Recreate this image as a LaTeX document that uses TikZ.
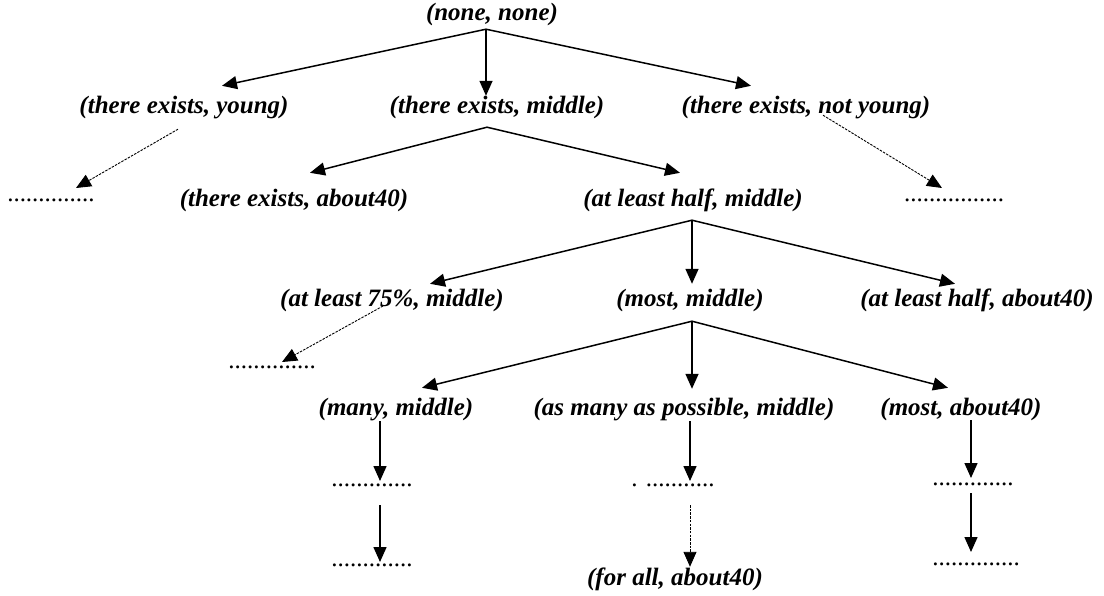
\documentclass[tikz,border=0pt]{standalone}
\usepackage{fontspec}
\setmainfont{Liberation Serif}
\usetikzlibrary{arrows.meta,calc}
\tikzset{
 lbl/.style={anchor=base,inner sep=0pt,text height=17pt,text depth=5pt,font=\fontsize{25}{30}\selectfont\bfseries\itshape},
 dotrow/.style={anchor=base,inner sep=0pt,font=\fontsize{25}{30}\selectfont},
 arr/.style={line width=1.5pt,-{Triangle[length=15pt,width=13pt]}},
 darr/.style={line width=0.9pt,dash pattern=on 2.5pt off 1.2pt,-{Triangle[length=15pt,width=13pt]}}
}
\begin{document}
\begin{tikzpicture}[x=1pt,y=-1pt]
 \useasboundingbox (0,0) rectangle (1104,595);
 \node[lbl] (root) at (492,20) {(none, none)};
 \node[lbl] (ey) at (184,113) {(there exists, young)};
 \node[lbl] (em) at (497,113) {(there exists, middle)};
 \node[lbl] (en) at (806,113) {(there exists, not young)};
 \node[dotrow] (d1) at (51,201) {..............};
 \node[lbl] (ea) at (294,206) {(there exists, about40)};
 \node[lbl] (ah) at (693,206) {(at least half, middle)};
 \node[dotrow] (d2) at (954,201) {................};
 \node[lbl] (a75) at (392,306) {(at least 75\%, middle)};
 \node[lbl] (mm) at (690,306) {(most, middle)};
 \node[lbl] (ha) at (977,306) {(at least half, about40)};
 \node[dotrow] (d3) at (272,368) {..............};
 \node[lbl] (many) at (396,415) {(many, middle)};
 \node[lbl] (amp) at (684,415) {(as many as possible, middle)};
 \node[lbl] (ma) at (961,415) {(most, about40)};
 \node[dotrow] (d5a) at (372,486) {.............};
 \node[dotrow] (d5b) at (673,486) {. ...........};
 \node[dotrow] (d5c) at (973,485) {.............};
 \node[dotrow] (d6a) at (372,566) {.............};
 \node[lbl] (fa) at (675,585) {(for all, about40)};
 \node[dotrow] (d6c) at (976,565) {..............};
 \coordinate (j0) at ([xshift=-6pt,yshift=-4pt]root.south);
 \coordinate (j1) at ([xshift=-10pt,yshift=-9pt]em.south);
 \coordinate (j2) at ([xshift=-1pt,yshift=-9pt]ah.south);
 \coordinate (j3) at ([xshift=2pt,yshift=-10pt]mm.south);
 \draw[arr] (j0) -- ([xshift=38pt,yshift=10pt]ey.north);
 \draw[arr] (j0) -- (j0 |- em.north);
 \draw[arr] (j0) -- ([xshift=-55pt,yshift=10pt]en.north);
 \draw[arr] (j1) -- ([xshift=16pt,yshift=16pt]ea.north);
 \draw[arr] (j1) -- ([xshift=-13pt,yshift=16pt]ah.north);
 \draw[darr] ([xshift=-6pt,yshift=-11pt]ey.south) -- ([xshift=25pt,yshift=13pt]d1.base);
 \draw[darr] ([xshift=17pt,yshift=3pt]en.south) -- ([xshift=-12pt,yshift=13pt]d2.base);
 \draw[arr] (j2) -- ([xshift=38pt,yshift=5pt]a75.north);
 \draw[arr] (j2) -- ($(j2 |- mm.north)+(0pt,5pt)$);
 \draw[arr] (j2) -- ([xshift=-22pt,yshift=5pt]ha.north);
 \draw[darr] ([xshift=-9pt]a75.base) -- ([xshift=10pt,yshift=6pt]d3.base);
 \draw[arr] (j3) -- ([xshift=26pt,yshift=10pt]many.north);
 \draw[arr] (j3) -- ($(j3 |- amp.north)+(0pt,9pt)$);
 \draw[arr] (j3) -- ([xshift=-13pt,yshift=10pt]ma.north);
 \draw[arr] ([xshift=-16pt,yshift=-1pt]many.south) -- ([xshift=8pt,yshift=5pt]d5a.base);
 \draw[arr] ([xshift=8pt,yshift=-19pt]d5a.base) -- ([xshift=8pt,yshift=4pt]d6a.base);
 \draw[arr] ([xshift=6pt,yshift=-1pt]amp.south) -- ([xshift=17pt,yshift=5pt]d5b.base);
 \draw[darr] ([xshift=17pt,yshift=-19pt]d5b.base) -- ([xshift=15pt,yshift=1pt]fa.north);
 \draw[arr] ([xshift=10pt]ma.south) -- ([xshift=-2pt,yshift=7pt]d5c.base);
 \draw[arr] ([xshift=-2pt,yshift=-8pt]d5c.base) -- ([xshift=-5pt,yshift=13pt]d6c.base);
\end{tikzpicture}
\end{document}
